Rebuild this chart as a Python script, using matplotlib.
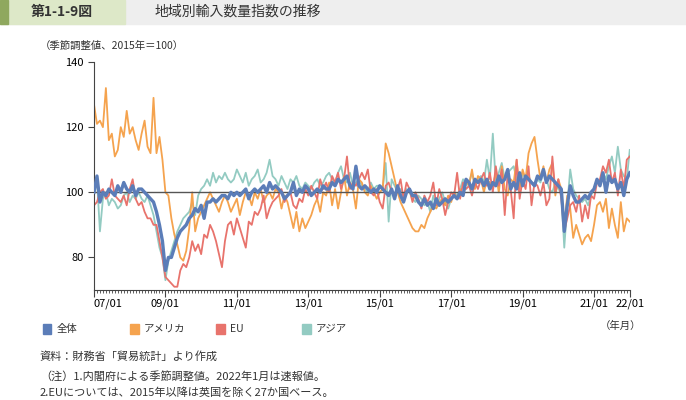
import matplotlib
matplotlib.use('Agg')
import matplotlib.pyplot as plt
import matplotlib.patches as patches
import numpy as np
import pandas as pd

plt.rcParams['font.family'] = 'Noto Sans CJK JP'

# monthly, 2007/01 .. 2022/01
total = [100,105,97,100,99,101,100,99,102,100,103,101,
         100,102,99,101,101,100,99,98,97,94,90,85,
         76,80,80,83,86,88,89,90,92,93,95,94,
         96,92,97,97,98,97,98,99,99,98,100,99,
         100,99,100,101,98,100,101,100,101,102,100,103,
         101,102,101,100,98,99,100,103,99,101,100,102,
         101,99,100,101,100,102,101,101,103,102,104,103,
         104,105,102,101,108,102,101,102,101,100,101,100,
         102,101,100,99,101,98,102,99,97,100,101,99,
         99,97,96,98,96,97,95,98,96,97,98,97,
         98,99,98,100,99,104,103,101,104,103,104,102,
         104,101,103,102,105,103,104,107,101,103,101,106,
         102,105,104,103,102,105,104,107,103,105,104,103,
         102,101,88,96,102,99,97,97,98,99,98,100,
         101,104,102,106,100,105,103,104,101,103,99,104,
         106]
america = [127,121,122,120,132,116,118,111,113,120,117,125,
           118,120,116,113,118,122,114,112,129,112,117,110,
           100,99,92,87,84,80,79,82,89,100,88,92,
           94,96,98,100,98,96,94,97,99,97,94,96,
           98,93,97,100,99,96,100,98,101,97,99,100,
           98,101,100,95,99,97,93,89,94,88,92,89,
           91,93,96,98,94,100,99,103,96,101,95,100,
           105,99,103,101,95,104,103,100,99,102,100,98,
           100,101,115,112,108,104,100,97,95,93,91,89,
           88,88,90,89,92,94,96,95,97,98,96,99,
           97,100,98,101,99,104,102,107,101,105,104,100,
           104,103,102,106,100,108,101,99,104,103,110,101,
           107,104,112,115,117,110,104,108,103,107,109,99,
           104,101,90,99,95,86,90,87,84,86,87,85,
           90,96,97,94,98,89,95,90,86,97,88,92,
           91]
eu = [96,97,100,101,98,99,104,99,98,97,99,96,
      101,104,98,96,97,94,92,92,90,90,85,80,
      74,73,72,71,71,76,78,77,80,85,82,84,
      81,87,86,90,88,85,81,77,85,90,91,87,
      92,89,86,83,91,90,94,93,95,99,92,95,
      97,98,99,101,97,99,100,96,95,98,97,101,
      99,102,100,98,104,101,103,100,105,103,106,101,
      104,111,101,103,102,104,106,104,107,100,99,101,
      97,95,102,103,100,99,101,104,98,103,101,97,
      100,98,95,99,97,99,103,96,101,98,93,97,
      100,99,106,98,103,101,102,99,103,101,104,106,
      102,106,100,108,102,107,93,106,101,92,110,98,
      104,101,108,96,103,102,99,103,96,98,111,100,
      104,98,88,92,96,97,94,99,91,96,92,99,
      98,103,104,108,106,110,103,106,99,107,101,110,
      111]
asia = [100,104,88,98,100,96,98,97,95,96,99,100,
        97,99,98,100,98,97,99,96,93,88,83,80,
        73,79,82,85,88,90,92,93,94,97,93,99,
        101,102,104,102,106,103,105,104,106,104,103,104,
        107,105,103,106,102,104,105,107,103,104,106,110,
        105,104,102,105,103,101,104,103,105,102,101,103,
        102,101,103,104,102,103,105,106,104,103,106,108,
        104,103,106,102,103,104,102,101,100,103,101,102,
        102,101,109,91,104,102,100,101,99,101,100,98,
        97,99,98,96,97,94,99,96,98,100,97,95,
        98,100,99,101,104,102,103,106,102,104,105,103,
        110,104,118,103,106,109,104,106,107,108,104,102,
        106,104,105,103,102,104,103,106,104,101,100,103,
        101,100,83,96,107,101,99,98,97,98,96,99,
        101,104,102,106,104,108,111,106,114,107,105,104,
        113]
months = pd.date_range('2007-01-01', periods=len(total), freq='MS')
tick_years = [2007, 2009, 2011, 2013, 2015, 2017, 2019, 2021, 2022]
tick_labels = ['07/01', '09/01', '11/01', '13/01', '15/01', '17/01', '19/01', '21/01', '22/01']

c_total = '#5b7db8'
c_us = '#f5a34e'
c_eu = '#e8736c'
c_asia = '#93cbc2'

fig = plt.figure(figsize=(6.86, 4.0), dpi=100)

# header bar
fig.patches.append(patches.Rectangle((0, 0.94), 1, 0.06, transform=fig.transFigure, color='#eeeeee', zorder=0))
fig.patches.append(patches.Rectangle((0, 0.94), 0.182, 0.06, transform=fig.transFigure, color='#dde8c8', zorder=1))
fig.patches.append(patches.Rectangle((0, 0.94), 0.011, 0.06, transform=fig.transFigure, color='#8fa85e', zorder=2))
fig.text(0.045, 0.97, '第1-1-9図', fontsize=10, fontweight='bold', va='center', color='#333333')
fig.text(0.225, 0.97, '地域別輸入数量指数の推移', fontsize=10, va='center', color='#333333')
fig.text(0.058, 0.885, '（季節調整値、2015年＝100）', fontsize=7.5, va='center', color='#333333')

ax = fig.add_axes([0.137, 0.275, 0.781, 0.57])
x = np.arange(len(total))
ax.plot(x, asia, color=c_asia, lw=1.3)
ax.plot(x, america, color=c_us, lw=1.3)
ax.plot(x, eu, color=c_eu, lw=1.3)
ax.axhline(100, color='#555555', lw=1.0, zorder=3)
ax.plot(x, total, color=c_total, lw=2.4, zorder=4)

ax.set_ylim(70, 140)
ax.set_xlim(0, len(total) - 1)
ax.set_yticks([80, 100, 120, 140])
ax.tick_params(axis='y', labelsize=8, length=4, color='#444444')
tpos = [(y - 2007) * 12 for y in tick_years]
ax.set_xticks(tpos)
ax.set_xticklabels(tick_labels, fontsize=8)
ax.get_xticklabels()[0].set_ha('left')
ax.set_xticks(x, minor=True)
ax.tick_params(axis='x', which='major', length=5, color='#444444', pad=1)
ax.tick_params(axis='x', which='minor', length=2.5, color='#444444')
for s in ['top', 'right']:
    ax.spines[s].set_visible(False)
ax.spines['left'].set_color('#444444')
ax.spines['bottom'].set_color('#444444')

# legend
items = [('全体', c_total, 0.062), ('アメリカ', c_us, 0.19), ('EU', c_eu, 0.315), ('アジア', c_asia, 0.44)]
for label, col, lx in items:
    fig.patches.append(patches.Rectangle((lx, 0.165), 0.013, 0.026, transform=fig.transFigure, color=col))
    fig.text(lx + 0.02, 0.178, label, fontsize=7.5, va='center', color='#333333')
fig.text(0.905, 0.185, '（年月）', fontsize=7.5, va='center', ha='center', color='#333333')

fig.text(0.058, 0.108, '資料：財務省「貿易統計」より作成', fontsize=8, va='center', color='#333333')
fig.text(0.058, 0.06, '（注）1.内閣府による季節調整値。2022年1月は速報値。', fontsize=8, va='center', color='#333333')
fig.text(0.058, 0.018, '2.EUについては、2015年以降は英国を除く27か国ベース。', fontsize=8, va='center', color='#333333')

fig.savefig('out.png', dpi=100)
